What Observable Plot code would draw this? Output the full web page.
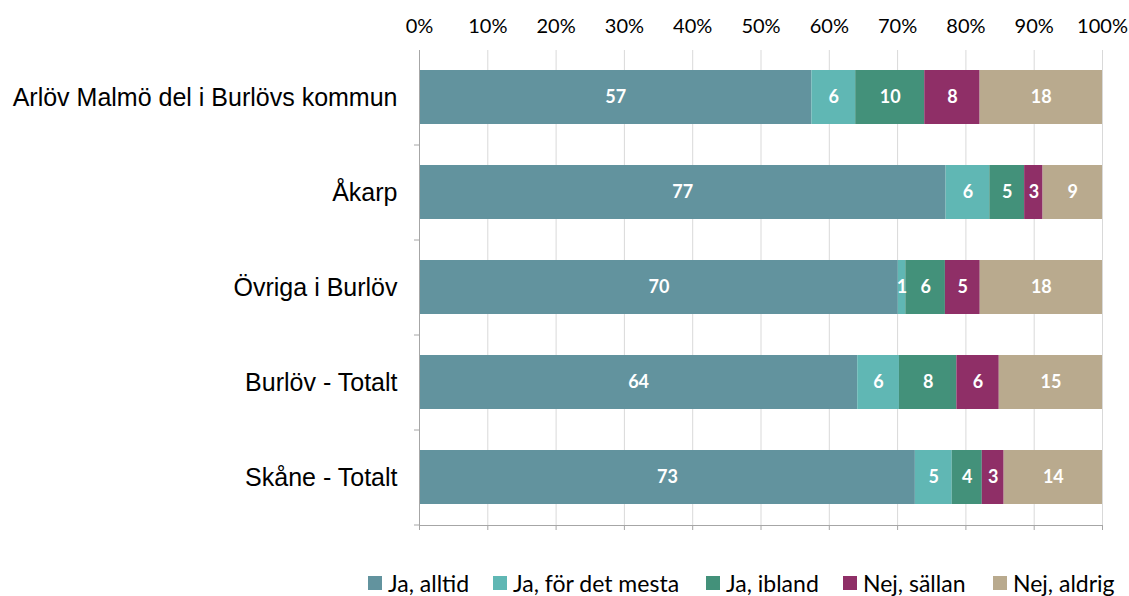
<!DOCTYPE html>
<html>
<head>
<meta charset="utf-8">
<script src="https://cdn.jsdelivr.net/npm/d3@7"></script>
<script src="https://cdn.jsdelivr.net/npm/@observablehq/plot@0.6"></script>
<style>
  body { margin: 0; background: #fff; position: relative; width: 1129px; height: 596px; overflow: hidden; }
  #legend { position: absolute; left: 0; top: 0; width: 1129px; height: 596px; pointer-events: none; font-family: Lato, "Open Sans", sans-serif; font-size: 23px; color: #000; }
  .item { position: absolute; top: 570px; height: 26px; line-height: 26px; display: flex; align-items: center; white-space: nowrap; }
  .sw { width: 14px; height: 14px; margin-right: 6px; }
</style>
</head>
<body>
<div id="chart"></div>
<div id="legend"></div>
<script>
const categories = ["Arlöv Malmö del i Burlövs kommun", "Åkarp", "Övriga i Burlöv", "Burlöv - Totalt", "Skåne - Totalt"];
const series = ["Ja, alltid", "Ja, för det mesta", "Ja, ibland", "Nej, sällan", "Nej, aldrig"];
const colors = ["#62939e", "#60b7b4", "#43917a", "#8f2f67", "#b9aa8e"];
// percentages; labels show them rounded
const jaAlltid = [57.4, 77.1, 70.1, 64.1, 72.6];
const jaForDetMesta = [6.4, 6.4, 1.1, 6.1, 5.4];
const jaIbland = [10.1, 5.1, 5.8, 8.4, 4.4];
const nejSallan = [8.1, 2.7, 5.1, 6.2, 3.2];
const nejAldrig = [17.9, 8.7, 17.9, 15.1, 14.4];
const xTicks = [0, 0.1, 0.2, 0.3, 0.4, 0.5, 0.6, 0.7, 0.8, 0.9, 1];
const legendX = [368, 493, 706, 843, 993];

const seriesValues = [jaAlltid, jaForDetMesta, jaIbland, nejSallan, nejAldrig];
const data = [];
categories.forEach((c, i) => {
  series.forEach((s, j) => data.push({cat: c, series: s, value: seriesValues[j][i]}));
});

const stackOpts = {x: "value", y: "cat", z: "series", offset: "normalize", order: series};

const chart = Plot.plot({
  width: 1129,
  height: 560,
  marginLeft: 419,
  marginRight: 27,
  marginTop: 50,
  marginBottom: 35,
  style: {background: "#fff", fontFamily: "'Liberation Sans', Arial, sans-serif"},
  x: {domain: [0, 1], ticks: xTicks},
  y: {domain: categories, paddingInner: 0.43, paddingOuter: 0.215, label: null},
  color: {domain: series, range: colors},
  marks: [
    Plot.gridX(xTicks, {stroke: "#d9d9d9", strokeOpacity: 1, strokeWidth: 1}),
    Plot.axisX(xTicks, {anchor: "top", tickSize: 0, tickPadding: 18, tickFormat: d => Math.round(d * 100) + "%", label: null, fontSize: 20, fontFamily: "Lato, 'Open Sans', sans-serif", fill: "#000"}),
    Plot.axisX(xTicks, {anchor: "bottom", tickSize: 5, tickFormat: () => "", label: null, stroke: "#a6a6a6"}),
    Plot.axisY({tickSize: 0, tickPadding: 22, fontSize: 25, fontFamily: "'Liberation Sans', Arial, sans-serif", fill: "#000", label: null}),
    Plot.axisY({tickSize: 5, tickFormat: () => "", dy: 47.5, stroke: "#a6a6a6", label: null}),
    Plot.barX(data, Plot.stackX({...stackOpts, fill: "series"})),
    Plot.text(data, Plot.stackX({...stackOpts, text: d => String(Math.round(d.value)), fill: "#fff", fontWeight: "bold", fontSize: 18, fontFamily: "Lato, 'Open Sans', sans-serif"})),
    Plot.frame({anchor: "left", stroke: "#a6a6a6"}),
    Plot.frame({anchor: "bottom", stroke: "#a6a6a6"})
  ]
});
document.getElementById("chart").appendChild(chart);

const legend = document.getElementById("legend");
series.forEach((s, i) => {
  const item = document.createElement("div");
  item.className = "item";
  item.style.left = legendX[i] + "px";
  const sw = document.createElement("div");
  sw.className = "sw";
  sw.style.background = colors[i];
  const t = document.createElement("span");
  t.textContent = s;
  item.appendChild(sw);
  item.appendChild(t);
  legend.appendChild(item);
});
</script>
</body>
</html>
